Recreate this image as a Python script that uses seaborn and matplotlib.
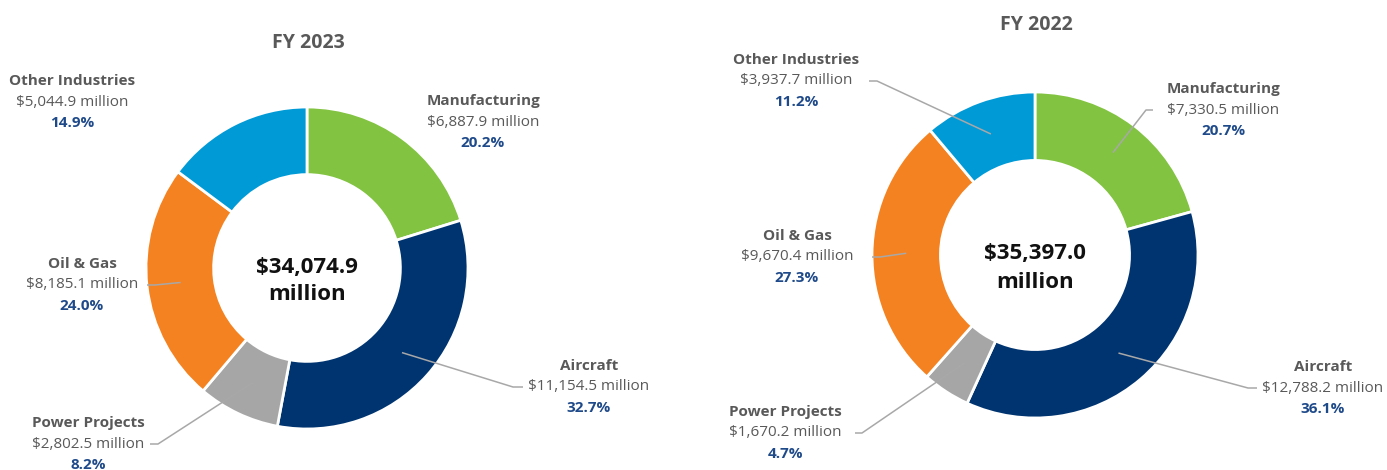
import numpy as np
import matplotlib
matplotlib.use("Agg")
import matplotlib.pyplot as plt
import seaborn as sns

# ---- data ----
categories = ["Manufacturing", "Aircraft", "Power Projects", "Oil & Gas", "Other Industries"]
values_2023 = [6887.9, 11154.5, 2802.5, 8185.1, 5044.9]
pct_2023 = [20.2, 32.7, 8.2, 24.0, 14.9]
values_2022 = [7330.5, 12788.2, 1670.2, 9670.4, 3937.7]
pct_2022 = [20.7, 36.1, 4.7, 27.3, 11.2]
titles = ["FY 2023", "FY 2022"]
totals = [34074.9, 35397.0]
colors = ["#82C341", "#003470", "#A6A6A6", "#F58220", "#009AD7"]

sns.set_theme(style="white")
plt.rcParams['font.family'] = ['Open Sans', 'DejaVu Sans']

W, H = 1387, 470
fig = plt.figure(figsize=(W / 100, H / 100), dpi=100)
ax = fig.add_axes([0, 0, 1, 1])
ax.set_xlim(0, W)
ax.set_ylim(0, H)
ax.set_aspect('equal')
ax.axis('off')

def Y(py):
    return H - py

GRAY = "#595959"
NAVY = "#1F4A8A"
LEAD = "#A8A8A8"

layouts = [
    dict(center=(307, 268), r=161, title=(308, 43), total_y=(267, 295),
         labels={
             "Manufacturing": ((483, 122), None),
             "Aircraft": ((589, 387), (523, 513)),
             "Power Projects": ((88, 444), (150, 158)),
             "Oil & Gas": ((82, 285), (147, 155)),
             "Other Industries": ((72, 102), None),
         }),
    dict(center=(1035, 255), r=163, title=(1036, 25), total_y=(254, 282),
         labels={
             "Manufacturing": ((1223, 110), (1153, 1146)),
             "Aircraft": ((1323, 388), (1257, 1248)),
             "Power Projects": ((785, 433), (855, 862)),
             "Oil & Gas": ((797, 257), (872, 880)),
             "Other Industries": ((796, 81), (869, 877)),
         }),
]

datasets = [(values_2023, pct_2023), (values_2022, pct_2022)]

for lay, (vals, pcts), title, total in zip(layouts, datasets, titles, totals):
    cx, cy = lay["center"]
    r = lay["r"]
    width = r * 0.42
    wedges, _ = ax.pie(vals, colors=colors, startangle=90, counterclock=False,
                       center=(cx, Y(cy)), radius=r, frame=True,
                       wedgeprops=dict(width=width, edgecolor="white", linewidth=2))
    ax.text(lay["title"][0], Y(lay["title"][1]), title, ha="center", va="center",
            fontsize=14, fontweight="bold", color=GRAY)
    ax.text(cx, Y(lay["total_y"][0]), f"${total:,.1f}", ha="center", va="center",
            fontsize=16, fontweight="bold", color="#111111")
    ax.text(cx, Y(lay["total_y"][1]), "million", ha="center", va="center",
            fontsize=16, fontweight="bold", color="#111111")
    rmid = r - width / 2
    for w, cat, v, p in zip(wedges, categories, vals, pcts):
        (lx, ly), lead = lay["labels"][cat]
        ax.text(lx, Y(ly - 21), cat, ha="center", va="center", fontsize=11,
                fontweight="bold", color=GRAY)
        ax.text(lx, Y(ly), f"${v:,.1f} million", ha="center", va="center",
                fontsize=11, color=GRAY)
        ax.text(lx, Y(ly + 21), f"{p:.1f}%", ha="center", va="center", fontsize=11,
                fontweight="bold", color=NAVY)
        if lead is not None:
            ang = np.deg2rad((w.theta1 + w.theta2) / 2)
            mx = cx + rmid * np.cos(ang)
            my = Y(cy) + rmid * np.sin(ang)
            sx, ex = lead
            ax.plot([sx, ex, mx], [Y(ly), Y(ly), my], color=LEAD, lw=1.1,
                    solid_capstyle="butt", zorder=5)

ax.set_xlim(0, W)
ax.set_ylim(0, H)
fig.savefig("out.png", dpi=100, facecolor="white")
